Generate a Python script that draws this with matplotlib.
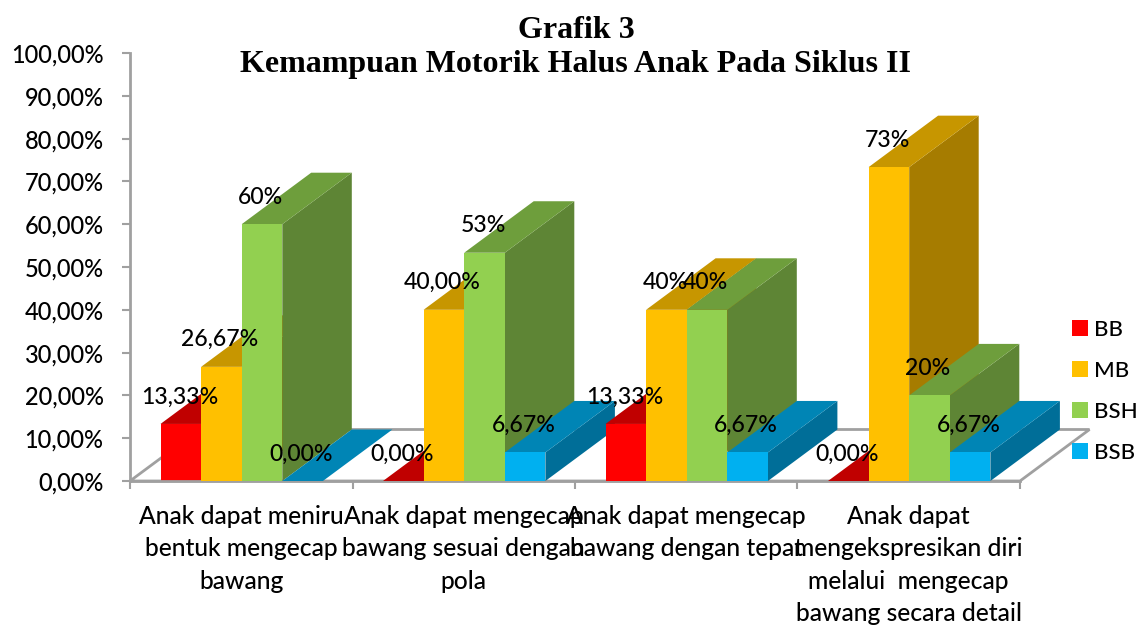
import matplotlib
matplotlib.use("Agg")
import matplotlib.pyplot as plt
from matplotlib.patches import Polygon, Patch

categories = ["Anak dapat meniru\nbentuk mengecap\nbawang",
              "Anak dapat mengecap\nbawang sesuai dengan\npola",
              "Anak dapat mengecap\nbawang dengan tepat",
              "Anak dapat\nmengekspresikan diri\nmelalui  mengecap\nbawang secara detail"]
series_names = ["BB", "MB", "BSH", "BSB"]
bb = [13.33, 0, 13.33, 0]
mb = [26.67, 40, 40, 73.33]
bsh = [60, 53.33, 40, 20]
bsb = [0, 6.67, 6.67, 6.67]
bb_labels = ["13,33%", "0,00%", "13,33%", "0,00%"]
mb_labels = ["26,67%", "40,00%", "40%", "73%"]
bsh_labels = ["60%", "53%", "40%", "20%"]
bsb_labels = ["0,00%", "6,67%", "6,67%", "6,67%"]
y_ticks = list(range(0, 101, 10))
y_tick_labels = [f"{v},00%" for v in y_ticks]

front = ["#FF0000", "#FFC000", "#92D050", "#00B0F0"]
top = ["#C00000", "#C79600", "#6E9E3C", "#0085B5"]
side = ["#A00000", "#A67C00", "#5E8535", "#006E98"]

W, H = 1142, 628
L, R, T, B = 130, 1020, 53, 481
FONT = "Lato"
WEIGHT = "medium"
GRAY = "#A0A0A0"

fig = plt.figure(figsize=(W / 100, H / 100), dpi=100)
ax = fig.add_axes([L / W, 1 - B / H, (R - L) / W, (B - T) / H])
ax.set_xlim(0, 4)
ax.set_ylim(0, 100)

# depth of the pseudo 3D projection, in data units
dx = 69.5 / (R - L) * 4
dy = 51.5 / (B - T) * 100
bar_w = 40.6 / (R - L) * 4
margin = 30.5 / (R - L) * 4

for s in ["top", "right"]:
    ax.spines[s].set_visible(False)
for s in ["left", "bottom"]:
    ax.spines[s].set_color(GRAY)
    ax.spines[s].set_linewidth(2)

# floor
floor = Polygon([(0, 0), (4, 0), (4 + dx, dy), (dx, dy)], closed=True,
                facecolor="white", edgecolor=GRAY, linewidth=2,
                clip_on=False, zorder=1)
ax.add_patch(floor)

series = [bb, mb, bsh, bsb]
labels = [bb_labels, mb_labels, bsh_labels, bsb_labels]
z = 2
for g in range(4):
    for i, vals in enumerate(series):
        v = vals[g]
        x0 = g + margin + i * bar_w
        x1 = x0 + bar_w
        ax.add_patch(Polygon([(x1, 0), (x1 + dx, dy), (x1 + dx, v + dy), (x1, v)],
                             closed=True, facecolor=side[i], edgecolor="none",
                             clip_on=False, zorder=z))
        ax.add_patch(Polygon([(x0, v), (x1, v), (x1 + dx, v + dy), (x0 + dx, v + dy)],
                             closed=True, facecolor=top[i], edgecolor="none",
                             clip_on=False, zorder=z))
        ax.add_patch(Polygon([(x0, 0), (x1, 0), (x1, v), (x0, v)],
                             closed=True, facecolor=front[i], edgecolor="none",
                             clip_on=False, zorder=z))
        z += 1

for g in range(4):
    for i, vals in enumerate(series):
        xc = g + margin + (i + 0.5) * bar_w
        ax.annotate(labels[i][g], (xc, vals[g]), xytext=(-1, 19.5),
                    textcoords="offset points", ha="center", va="center",
                    fontsize=16.6, family=FONT, weight=WEIGHT, color="black", zorder=100)

ax.set_yticks(y_ticks)
ax.set_yticklabels(y_tick_labels, family=FONT, weight=WEIGHT, fontsize=17)
ax.tick_params(axis="y", length=6, width=1.5, color=GRAY, pad=13)
ax.set_xticks(range(5))
ax.set_xticklabels([""] * 5)
ax.tick_params(axis="x", which="major", length=6, width=1.5, color=GRAY)
ax.set_xticks([0.5, 1.5, 2.5, 3.5], minor=True)
ax.set_xticklabels(categories, minor=True, family=FONT, weight=WEIGHT, fontsize=17.7,
                   linespacing=1.5, ha="center", va="top")
ax.tick_params(axis="x", which="minor", length=0, pad=17)

fig.text(576 / W, 1 - 47.5 / H, "Grafik 3\nKemampuan Motorik Halus Anak Pada Siklus II",
         ha="center", va="center", family="Liberation Serif", weight="bold",
         fontsize=23, linespacing=1.2)

handles = [Patch(facecolor=c, edgecolor="none") for c in front]
leg = fig.legend(handles, series_names, loc="center left",
                 bbox_to_anchor=(1072 / W, 1 - 391.5 / H), frameon=False,
                 prop={"family": FONT, "weight": WEIGHT, "size": 16},
                 handlelength=0.72, handleheight=0.72, handletextpad=0.28,
                 labelspacing=0.94, borderpad=0, borderaxespad=0)

fig.savefig("out.png", dpi=100)
